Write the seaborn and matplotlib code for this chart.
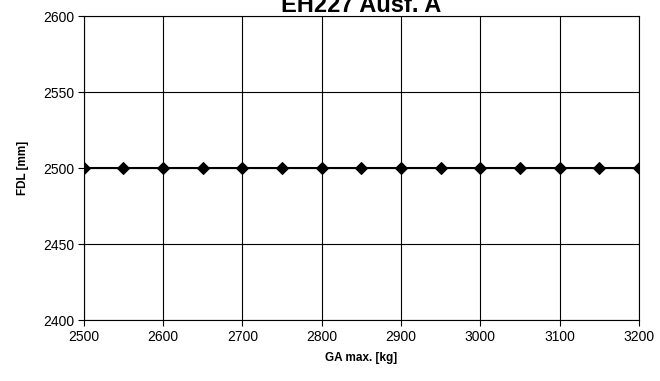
import matplotlib
matplotlib.use("Agg")
import matplotlib.pyplot as plt
import seaborn as sns
import pandas as pd

# data
ga_max = [2500, 2550, 2600, 2650, 2700, 2750, 2800, 2850, 2900, 2950, 3000, 3050, 3100, 3150, 3200]
fdl = [2500, 2500, 2500, 2500, 2500, 2500, 2500, 2500, 2500, 2500, 2500, 2500, 2500, 2500, 2500]
x_ticks = [2500, 2600, 2700, 2800, 2900, 3000, 3100, 3200]
y_ticks = [2400, 2450, 2500, 2550, 2600]


def main():
    sns.set_style("white", {"xtick.bottom": True, "ytick.left": True,
                            "text.color": "black", "axes.labelcolor": "black",
                            "xtick.color": "black", "ytick.color": "black"})
    plt.rcParams['font.family'] = ['Liberation Sans', 'DejaVu Sans']

    df = pd.DataFrame({"ga": ga_max, "fdl": fdl})

    fig = plt.figure(figsize=(6.6, 3.81), dpi=100)
    ax = fig.add_axes([0.127, 0.160, 0.841, 0.798])

    sns.lineplot(x="ga", y="fdl", data=df, ax=ax, color="black", linewidth=1.5,
                 marker="D", markersize=6.5, markeredgecolor="black", markerfacecolor="black")

    ax.set_xlim(2500, 3200)
    ax.set_ylim(2400, 2600)
    ax.set_xticks(x_ticks)
    ax.set_yticks(y_ticks)
    ax.grid(True, color="black", linewidth=0.8)
    ax.set_axisbelow(True)
    for s in ax.spines.values():
        s.set_color("black")
        s.set_linewidth(0.8)
    ax.tick_params(axis="both", direction="out", length=4, width=0.8, color="black",
                   labelcolor="black", labelsize=10, pad=3)

    ax.set_xlabel("GA max. [kg]", fontsize=8.5, fontweight="bold", labelpad=6)
    ax.set_ylabel("FDL [mm]", fontsize=8.5, fontweight="bold", labelpad=10)

    fig.text(0.547, 0.968, "EH227 Ausf. A", ha="center", va="baseline",
             fontsize=17, fontweight="bold", color="black")

    fig.savefig("out.png", dpi=100)


if __name__ == "__main__":
    main()
